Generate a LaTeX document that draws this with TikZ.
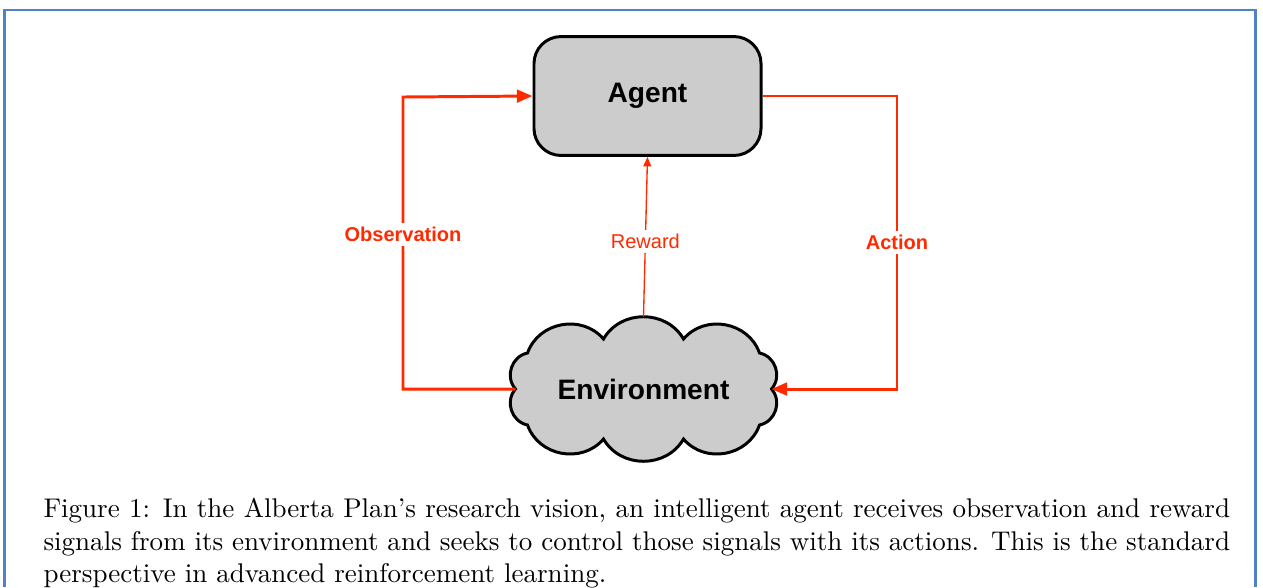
\documentclass[tikz,border=0pt]{standalone}
\usepackage{fontspec}
\newfontfamily\diagfont{Liberation Sans}
\usetikzlibrary{arrows.meta}
\definecolor{sigred}{HTML}{FF2A00}
\definecolor{nodegray}{HTML}{CCCCCC}
\definecolor{frameblue}{HTML}{5082C4}

\begin{document}
\begin{tikzpicture}[x=0.37pt, y=-0.37pt,
  agentbox/.style={draw=black, fill=nodegray, line width=1.1pt, rounded corners=10pt, minimum width=84pt, minimum height=44pt, font=\diagfont\fontsize{10.4}{12}\selectfont\bfseries},
  cloudline/.style={draw=black, fill=nodegray, line width=1.1pt},
  puff/.style={bend right=60, looseness=1.1},
  envtext/.style={inner sep=0pt, font=\diagfont\fontsize{10.4}{12}\selectfont\bfseries},
  flow/.style={draw=sigred, line width=1.1pt, -{Triangle[length=5.8pt,width=4.7pt]}},
  thinflow/.style={draw=sigred, line width=0.5pt, -{Triangle[length=3.5pt,width=2.9pt]}},
  lbl/.style={fill=white, text=sigred, inner sep=1.5pt, font=\diagfont\fontsize{7.4}{9}\selectfont\bfseries},
  thinlbl/.style={lbl, font=\diagfont\fontsize{7.4}{9}\selectfont}]
\useasboundingbox (0,0) rectangle (1263,587);
% figure frame, open at the bottom
\draw[frameblue, line width=0.75pt] (4.5,587) -- (4.5,10) -- (1255.5,10) -- (1255.5,587);

\node[agentbox] (agent) at (647.5,96) {Agent};

% cloud of ten puffs round the environment (y up inside the scope)
\coordinate (envc) at (643.5,389);
\begin{scope}[shift={(envc)}, y=0.37pt]
  \draw[cloudline] (128,0)
    \foreach \x/\y in {116/36, 40/50, -40/50, -116/36, -128/0, -116/-36, -40/-50, 40/-50, 116/-36}
      { to[puff] (\x,\y) }
    to[puff] cycle;
  \coordinate (envW) at (-128,0);
  \coordinate (envE) at (128,0);
  \coordinate (envN) at (0,72.5);
\end{scope}
\node[envtext] (env) at (envc) {Environment};

\coordinate (obsbend) at (403,97);
\coordinate (actbend) at (897,389);

\draw[flow] (envW) -| node[lbl, pos=0.765] {Observation} (obsbend) -- (agent.west);
\draw[flow] (agent.east) -| node[lbl, pos=0.75] {Action} (actbend) -- (envE);
\draw[thinflow] (envN) -- node[thinlbl, pos=0.47] {Reward} (agent.south);

\node[anchor=north west, inner sep=0pt, text width=439pt, align=justify] (caption) at (43,498)
  {Figure 1: In the Alberta Plan's research vision, an intelligent agent receives observation and reward\linebreak
   signals from its environment and seeks to control those signals with its actions. This is the standard\linebreak
   perspective in advanced reinforcement learning.};
\end{tikzpicture}
\end{document}
